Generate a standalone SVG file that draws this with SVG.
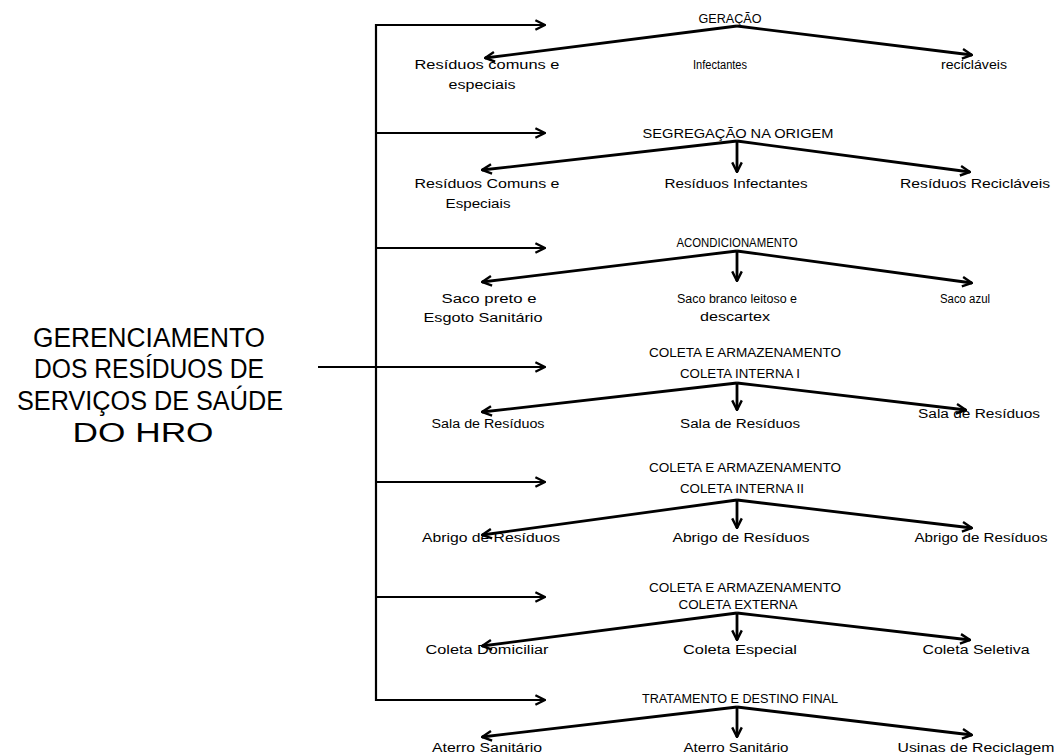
<svg xmlns="http://www.w3.org/2000/svg" width="1060" height="755" viewBox="0 0 1060 755">
<defs>
<marker id="ah" viewBox="0 0 10 10" refX="9" refY="5" markerWidth="12" markerHeight="12" markerUnits="userSpaceOnUse" orient="auto">
<path d="M1,1 L9,5 L1,9" fill="none" stroke="#000" stroke-width="2"/>
</marker>
</defs>
<style>
text{font-family:"Liberation Sans",Arial,sans-serif;fill:#000;text-anchor:middle}
.big{font-size:27px}
.t{font-size:12.5px}
.l{font-size:12px}
.c line,.c path{stroke:#000;fill:none}
.h{stroke-width:2.2}
.d{stroke-width:2.8}
</style>
<rect width="1060" height="755" fill="#fff"/>
<g id="connectors" class="c">
<line class="h" x1="376" y1="24" x2="376" y2="701"/>
<line class="h" x1="318" y1="367" x2="376" y2="367"/>
<line class="h" x1="376" y1="25" x2="545" y2="25" marker-end="url(#ah)"/>
<line class="h" x1="376" y1="133" x2="545" y2="133" marker-end="url(#ah)"/>
<line class="h" x1="376" y1="248" x2="545" y2="248" marker-end="url(#ah)"/>
<line class="h" x1="376" y1="367" x2="545" y2="367" marker-end="url(#ah)"/>
<line class="h" x1="376" y1="482" x2="545" y2="482" marker-end="url(#ah)"/>
<line class="h" x1="376" y1="597" x2="545" y2="597" marker-end="url(#ah)"/>
<line class="h" x1="376" y1="700" x2="545" y2="700" marker-end="url(#ah)"/>
<line class="d" x1="737" y1="26" x2="485" y2="58" marker-end="url(#ah)"/>
<line class="d" x1="737" y1="26" x2="972" y2="55" marker-end="url(#ah)"/>
<line class="d" x1="737" y1="141" x2="482" y2="170" marker-end="url(#ah)"/>
<line class="d" x1="737" y1="141" x2="737" y2="172" marker-end="url(#ah)"/>
<line class="d" x1="737" y1="141" x2="970" y2="172" marker-end="url(#ah)"/>
<line class="d" x1="737" y1="251" x2="482" y2="282" marker-end="url(#ah)"/>
<line class="d" x1="737" y1="251" x2="737" y2="281" marker-end="url(#ah)"/>
<line class="d" x1="737" y1="251" x2="972" y2="283" marker-end="url(#ah)"/>
<line class="d" x1="737" y1="383" x2="482" y2="412" marker-end="url(#ah)"/>
<line class="d" x1="737" y1="383" x2="737" y2="410" marker-end="url(#ah)"/>
<line class="d" x1="737" y1="383" x2="966" y2="410" marker-end="url(#ah)"/>
<line class="d" x1="737" y1="500" x2="482" y2="535" marker-end="url(#ah)"/>
<line class="d" x1="737" y1="500" x2="737" y2="528" marker-end="url(#ah)"/>
<line class="d" x1="737" y1="500" x2="972" y2="528" marker-end="url(#ah)"/>
<line class="d" x1="737" y1="613" x2="482" y2="646" marker-end="url(#ah)"/>
<line class="d" x1="737" y1="613" x2="737" y2="640" marker-end="url(#ah)"/>
<line class="d" x1="737" y1="613" x2="970" y2="640" marker-end="url(#ah)"/>
<line class="d" x1="737" y1="707" x2="482" y2="737" marker-end="url(#ah)"/>
<line class="d" x1="737" y1="707" x2="737" y2="737" marker-end="url(#ah)"/>
<line class="d" x1="737" y1="707" x2="972" y2="735" marker-end="url(#ah)"/>
</g>
<g id="root">
<text class="big" x="149" y="347" textLength="232" lengthAdjust="spacingAndGlyphs">GERENCIAMENTO</text>
<text class="big" x="149" y="378" textLength="230" lengthAdjust="spacingAndGlyphs">DOS RESÍDUOS DE</text>
<text class="big" x="150" y="410" textLength="266" lengthAdjust="spacingAndGlyphs">SERVIÇOS DE SAÚDE</text>
<text class="big" x="143" y="442" textLength="141" lengthAdjust="spacingAndGlyphs">DO HRO</text>
</g>
<g id="stage1">
<text class="t" x="730" y="23" textLength="63" lengthAdjust="spacingAndGlyphs">GERAÇÃO</text>
</g>
<g id="s1-a"><text class="l" x="487" y="69" textLength="145" lengthAdjust="spacingAndGlyphs">Resíduos comuns e</text><text class="l" x="482" y="89" textLength="67" lengthAdjust="spacingAndGlyphs">especiais</text></g>
<g id="s1-b"><text class="l" x="720" y="69" textLength="54" lengthAdjust="spacingAndGlyphs">Infectantes</text></g>
<g id="s1-c"><text class="l" x="974" y="69" textLength="66" lengthAdjust="spacingAndGlyphs">recicláveis</text></g>
<g id="stage2">
<text class="t" x="738" y="138" textLength="191" lengthAdjust="spacingAndGlyphs">SEGREGAÇÃO NA ORIGEM</text>
</g>
<g id="s2-a"><text class="l" x="487" y="188" textLength="145" lengthAdjust="spacingAndGlyphs">Resíduos Comuns e</text><text class="l" x="478" y="208" textLength="65" lengthAdjust="spacingAndGlyphs">Especiais</text></g>
<g id="s2-b"><text class="l" x="736" y="188" textLength="143" lengthAdjust="spacingAndGlyphs">Resíduos Infectantes</text></g>
<g id="s2-c"><text class="l" x="975" y="188" textLength="150" lengthAdjust="spacingAndGlyphs">Resíduos Recicláveis</text></g>
<g id="stage3">
<text class="t" x="737" y="247" textLength="121" lengthAdjust="spacingAndGlyphs">ACONDICIONAMENTO</text>
</g>
<g id="s3-a"><text class="l" x="489" y="303" textLength="95" lengthAdjust="spacingAndGlyphs">Saco preto e</text><text class="l" x="483" y="322" textLength="119" lengthAdjust="spacingAndGlyphs">Esgoto Sanitário</text></g>
<g id="s3-b"><text class="l" x="737" y="303" textLength="120" lengthAdjust="spacingAndGlyphs">Saco branco leitoso e</text><text class="l" x="735" y="321" textLength="70" lengthAdjust="spacingAndGlyphs">descartex</text></g>
<g id="s3-c"><text class="l" x="965" y="303" textLength="50" lengthAdjust="spacingAndGlyphs">Saco azul</text></g>
<g id="stage4">
<text class="t" x="745" y="357" textLength="192" lengthAdjust="spacingAndGlyphs">COLETA E ARMAZENAMENTO</text>
<text class="t" x="740" y="378" textLength="120" lengthAdjust="spacingAndGlyphs">COLETA INTERNA I</text>
</g>
<g id="s4-a"><text class="l" x="488" y="428" textLength="113" lengthAdjust="spacingAndGlyphs">Sala de Resíduos</text></g>
<g id="s4-b"><text class="l" x="740" y="428" textLength="120" lengthAdjust="spacingAndGlyphs">Sala de Resíduos</text></g>
<g id="s4-c"><text class="l" x="979" y="418" textLength="122" lengthAdjust="spacingAndGlyphs">Sala de Resíduos</text></g>
<g id="stage5">
<text class="t" x="745" y="472" textLength="192" lengthAdjust="spacingAndGlyphs">COLETA E ARMAZENAMENTO</text>
<text class="t" x="742" y="493" textLength="124" lengthAdjust="spacingAndGlyphs">COLETA INTERNA II</text>
</g>
<g id="s5-a"><text class="l" x="491" y="542" textLength="138" lengthAdjust="spacingAndGlyphs">Abrigo de Resíduos</text></g>
<g id="s5-b"><text class="l" x="741" y="542" textLength="137" lengthAdjust="spacingAndGlyphs">Abrigo de Resíduos</text></g>
<g id="s5-c"><text class="l" x="981" y="542" textLength="133" lengthAdjust="spacingAndGlyphs">Abrigo de Resíduos</text></g>
<g id="stage6">
<text class="t" x="745" y="592" textLength="192" lengthAdjust="spacingAndGlyphs">COLETA E ARMAZENAMENTO</text>
<text class="t" x="738" y="609" textLength="119" lengthAdjust="spacingAndGlyphs">COLETA EXTERNA</text>
</g>
<g id="s6-a"><text class="l" x="487" y="654" textLength="123" lengthAdjust="spacingAndGlyphs">Coleta Domiciliar</text></g>
<g id="s6-b"><text class="l" x="740" y="654" textLength="114" lengthAdjust="spacingAndGlyphs">Coleta Especial</text></g>
<g id="s6-c"><text class="l" x="976" y="654" textLength="107" lengthAdjust="spacingAndGlyphs">Coleta Seletiva</text></g>
<g id="stage7">
<text class="t" x="740" y="703" textLength="196" lengthAdjust="spacingAndGlyphs">TRATAMENTO E DESTINO FINAL</text>
</g>
<g id="s7-a"><text class="l" x="487" y="752" textLength="110" lengthAdjust="spacingAndGlyphs">Aterro Sanitário</text></g>
<g id="s7-b"><text class="l" x="736" y="752" textLength="105" lengthAdjust="spacingAndGlyphs">Aterro Sanitário</text></g>
<g id="s7-c"><text class="l" x="976" y="752" textLength="157" lengthAdjust="spacingAndGlyphs">Usinas de Reciclagem</text></g>
</svg>
